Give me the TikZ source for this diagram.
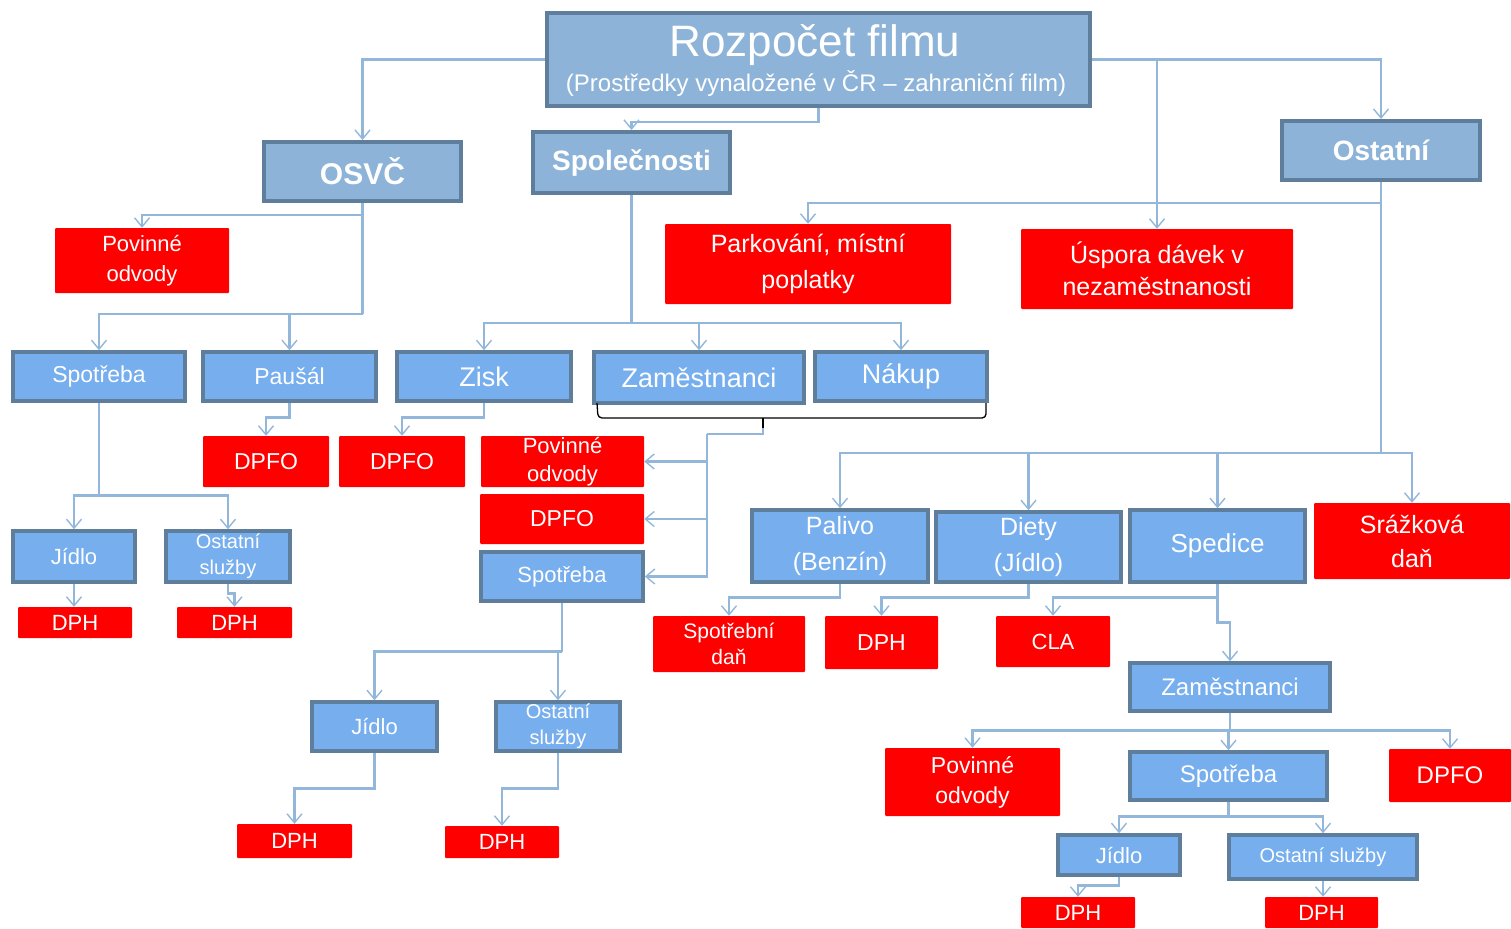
\documentclass[tikz,border=0pt]{standalone}
\usepackage{fontspec}
\setmainfont{Liberation Sans}
\usetikzlibrary{arrows.meta}
\definecolor{topfill}{HTML}{8DB4D8}
\definecolor{subfill}{HTML}{76AEEE}
\definecolor{bord}{HTML}{5E7E9B}
\definecolor{connc}{HTML}{93B7DA}
\definecolor{redb}{HTML}{FF0000}
\newcommand\bx[7]{\node[#2, minimum width={(#5-#3)*1pt}, minimum height={(#6-#4)*1pt}] (#1) at ({(#3+#5)/2},{(#4+#6)/2}) {#7};}
\begin{document}
\begin{tikzpicture}[x=1pt,y=-1pt,
 topbox/.style={fill=topfill, draw=bord, line width=4pt, text=white, inner sep=0pt, align=center},
 subbox/.style={fill=subfill, draw=bord, line width=3.5pt, text=white, inner sep=0pt, align=center},
 redbox/.style={fill=redb, rounded corners=1pt, text=white, inner sep=0pt, align=center},
 fs/.style 2 args={font=\fontsize{#1}{#2}\selectfont},
 fsb/.style 2 args={font=\fontsize{#1}{#2}\selectfont\bfseries},
 link/.style={draw=connc, line width=2.6pt},
 arr/.style={link, -{Straight Barb[length=9pt,width=15pt,line width=1.4pt]}}]
\useasboundingbox (0,0) rectangle (1511,928);

% top level
\bx{top}{topbox}{547}{13}{1090}{106}{}
\node[fs={44}{44}, text=white, inner sep=0pt] (toptitle) at (815,45) {Rozpočet filmu};
\node[fs={24}{24}, text=white, inner sep=0pt] (topsub) at (816,84) {(Prostředky vynaložené v ČR – zahraniční film)};
\bx{osvc}{topbox,fsb={30}{30}}{264}{142}{461}{201}{OSVČ}
\bx{spol}{topbox,fsb={28}{28}}{533}{132}{730}{193}{Společnosti}
\bx{ost}{topbox,fsb={28}{28}}{1282}{121}{1480}{180}{Ostatní}

% red under top
\bx{pov1}{redbox,fs={22}{30}}{55}{228}{229}{293}{Povinné\\odvody}
\bx{park}{redbox,fs={25}{36}}{665}{224}{951}{304}{Parkování, místní\\poplatky}
\bx{usp}{redbox,fs={25}{32}}{1021}{229}{1293}{309}{Úspora dávek v\\nezaměstnanosti}

% second level
\bx{spo1}{subbox,fs={23}{23}}{13}{352}{185}{401}{Spotřeba}
\bx{pau}{subbox,fs={23}{23}}{203}{352}{376}{401}{Paušál}
\bx{zisk}{subbox,fs={27}{27}}{397}{352}{571}{401}{Zisk}
\bx{zam}{subbox,fs={27}{27}}{594}{352}{804}{403}{Zaměstnanci}
\bx{nak}{subbox,fs={27}{27}}{815}{352}{987}{401}{Nákup}

\bx{dpfo1}{redbox,fs={23}{23}}{203}{436}{329}{487}{DPFO}
\bx{dpfo2}{redbox,fs={23}{23}}{339}{436}{465}{487}{DPFO}
\bx{pov2}{redbox,fs={22}{28}}{481}{436}{644}{487}{Povinné\\odvody}
\bx{dpfo3}{redbox,fs={23}{23}}{480}{494}{644}{544}{DPFO}
\bx{spo2}{subbox,fs={22}{22}}{481}{552}{643}{601}{Spotřeba}

\bx{jid1}{subbox,fs={22}{22}}{13}{531}{135}{582}{Jídlo}
\bx{ost1}{subbox,fs={20}{26}}{166}{531}{290}{582}{Ostatní\\služby}
\bx{dph1}{redbox,fs={22}{22}}{18}{607}{132}{638}{DPH}
\bx{dph2}{redbox,fs={22}{22}}{177}{607}{292}{638}{DPH}

\bx{jid2}{subbox,fs={22}{22}}{312}{702}{437}{751}{Jídlo}
\bx{ost2}{subbox,fs={20}{26}}{496}{702}{620}{751}{Ostatní\\služby}
\bx{dph3}{redbox,fs={22}{22}}{237}{824}{352}{858}{DPH}
\bx{dph4}{redbox,fs={22}{22}}{445}{826}{559}{858}{DPH}

% right side
\bx{pal}{subbox,fs={25}{36}}{752}{510}{928}{582}{Palivo\\(Benzín)}
\bx{die}{subbox,fs={25}{36}}{936}{512}{1121}{582}{Diety\\(Jídlo)}
\bx{sped}{subbox,fs={26}{26}}{1130}{510}{1305}{582}{Spedice}
\bx{sraz}{redbox,fs={25}{34}}{1314}{503}{1510}{579}{Srážková\\daň}

\bx{spd}{redbox,fs={21}{26}}{653}{616}{805}{672}{Spotřební\\daň}
\bx{dph5}{redbox,fs={23}{23}}{825}{616}{938}{669}{DPH}
\bx{cla}{redbox,fs={22}{22}}{996}{616}{1110}{667}{CLA}
\bx{zam2}{subbox,fs={24}{24}}{1130}{663}{1330}{711}{Zaměstnanci}
\bx{pov3}{redbox,fs={23}{30}}{885}{748}{1060}{816}{Povinné\\odvody}
\bx{spo3}{subbox,fs={24}{24}}{1130}{752}{1327}{800}{Spotřeba}
\bx{dpfo4}{redbox,fs={24}{24}}{1389}{749}{1511}{802}{DPFO}
\bx{jid3}{subbox,fs={22}{22}}{1058}{835}{1180}{875}{Jídlo}
\bx{ost3}{subbox,fs={20}{20}}{1229}{835}{1417}{879}{Ostatní služby}
\bx{dph6}{redbox,fs={22}{22}}{1021}{897}{1135}{928}{DPH}
\bx{dph7}{redbox,fs={22}{22}}{1265}{897}{1378}{928}{DPH}

% connectors from top
\draw[arr] (top.west) -| (osvc.north);
\draw[arr] (top.south) -- ++(0,14) -| (spol.north);
\draw[arr] (top.east) -| (ost.north);
\draw[arr] (top.east -| usp.north) -- (usp.north);

% Ostatni
\path (ost.south) ++(0,21) coordinate (ostb1) ++(0,250) coordinate (ostbus);
\draw[link] (ost.south) -- (ostbus);
\draw[arr] (ostb1) -| (park.north);
\draw[arr] (ostbus) -| (pal.north);
\draw[arr] (ostbus) -| (sraz.north);
\draw[arr] (ostbus -| die.north) -- (die.north);
\draw[arr] (ostbus -| sped.north) -- (sped.north);

% OSVC
\path (osvc.south) ++(0,12) coordinate (osb1) ++(0,99) coordinate (osb2);
\draw[link] (osvc.south) -- (osb2);
\draw[arr] (osb1) -| (pov1.north);
\draw[arr] (osb2) -| (spo1.north);
\draw[arr] (osb2) -| (pau.north);

% Spolecnosti
\path (spol.south) ++(0,128) coordinate (spb);
\draw[link] (spol.south) -- (spb);
\draw[arr] (spb) -| (zisk.north);
\draw[arr] (spb) -| (nak.north);
\draw[arr] (spb -| zam.north) -- (zam.north);

% bracket
\draw[black, line width=1.3pt, rounded corners=4pt] (597,403) -- (598,418) -- (986,418) -- (986,403);
\coordinate (brtip) at (763,428);
\coordinate (brbus) at (707,434);
\draw[black, line width=1.3pt] (763,418) -- (brtip);
\draw[link] (brtip) |- (brbus);
\draw[arr] (brbus) |- (spo2.east);
\draw[arr] (brbus |- pov2.east) -- (pov2.east);
\draw[arr] (brbus |- dpfo3.east) -- (dpfo3.east);

\draw[arr] (pau.south) -- ++(0,15) -| (dpfo1.north);
\draw[arr] (zisk.south) -- ++(0,15) -| (dpfo2.north);

\path (spo1.south) ++(0,93) coordinate (s1b);
\draw[link] (spo1.south) -- (s1b);
\draw[arr] (s1b) -| (jid1.north);
\draw[arr] (s1b) -| (ost1.north);
\draw[arr] (jid1.south) -- (jid1.south |- dph1.north);
\draw[arr] (ost1.south) -- ++(0,10) -| (dph2.north);

\path (spo2.south) ++(0,49) coordinate (s2b);
\draw[link] (spo2.south) -- (s2b);
\draw[arr] (s2b) -| (jid2.north);
\draw[arr] (s2b) -| (ost2.north);
\draw[arr] (jid2.south) -- ++(0,36) -| (dph3.north);
\draw[arr] (ost2.south) -- ++(0,36) -| (dph4.north);

\draw[arr] (pal.south) -- ++(0,14) -| (spd.north);
\draw[arr] (die.south) -- ++(0,14) -| (dph5.north);
\draw[arr] (sped.south) -- ++(0,14) -| (cla.north);
\draw[arr] (sped.south) -- ++(0,39) -| (zam2.north);

\path (zam2.south) ++(0,18) coordinate (z2b);
\draw[link] (zam2.south) -- (z2b);
\draw[arr] (z2b) -| (pov3.north);
\draw[arr] (z2b) -| (dpfo4.north);
\draw[arr] (z2b -| spo3.north) -- (spo3.north);

\path (spo3.south) ++(0,15) coordinate (s3b);
\draw[link] (spo3.south) -- (s3b);
\draw[arr] (s3b) -| (jid3.north);
\draw[arr] (s3b) -| (ost3.north);
\draw[arr] (jid3.south) -- ++(0,9) -| (dph6.north);
\draw[arr] (ost3.south) -- (ost3.south |- dph7.north);
\end{tikzpicture}
\end{document}
